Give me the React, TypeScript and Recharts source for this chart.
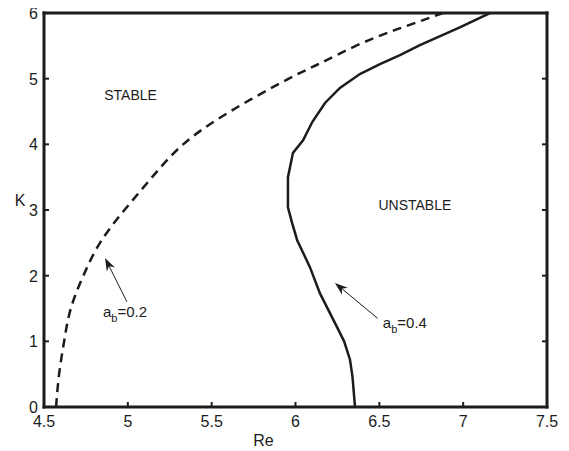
import { LineChart, Line, XAxis, YAxis, ReferenceLine, ReferenceDot } from "recharts";

// a_b = 0.2 boundary (dashed)
const dashedRe = [4.572, 4.59, 4.62, 4.66, 4.735, 4.834, 4.98, 5.145, 5.33, 5.61, 5.96, 6.16, 6.36, 6.55, 6.66, 6.88];
const dashedK = [0, 0.5, 1, 1.5, 2, 2.5, 3, 3.5, 4, 4.5, 5, 5.25, 5.5, 5.7, 5.8, 6];

// a_b = 0.4 boundary (solid)
const solidRe = [6.355, 6.34, 6.325, 6.29, 6.247, 6.146, 6.086, 6.01, 5.98, 5.955, 5.955, 5.985, 6.045, 6.1, 6.176, 6.265, 6.384, 6.504, 6.623, 6.742, 6.98, 7.16];
const solidK = [0, 0.46, 0.72, 1.0, 1.22, 1.73, 2.13, 2.54, 2.8, 3.04, 3.5, 3.87, 4.06, 4.34, 4.63, 4.86, 5.07, 5.22, 5.36, 5.51, 5.78, 6.0];

const reTicks = [4.5, 5, 5.5, 6, 6.5, 7, 7.5];
const kTicks = [0, 1, 2, 3, 4, 5, 6];

const dashed = dashedRe.map((re, i) => ({ Re: re, K: dashedK[i] }));
const solid = solidRe.map((re, i) => ({ Re: re, K: solidK[i] }));

const FONT = "'Liberation Sans', Arial, Helvetica, sans-serif";
const INK = "#1c1c1c";
const TICK_LEN = 5;
const GAP = 8;

function BottomTick({ x, y, payload }: any) {
  const base = y - GAP;
  return (
    <g>
      <line x1={x} x2={x} y1={base} y2={base - TICK_LEN} stroke={INK} strokeWidth={2} />
      <text x={x} y={base + 20} textAnchor="middle" fontSize={16} fill={INK} fontFamily={FONT}>
        {payload.value}
      </text>
    </g>
  );
}

function LeftTick({ x, y, payload }: any) {
  const base = x + GAP;
  return (
    <g>
      <line x1={base} x2={base + TICK_LEN} y1={y} y2={y} stroke={INK} strokeWidth={2} />
      <text x={base - 6} y={y + 6} textAnchor="end" fontSize={16} fill={INK} fontFamily={FONT}>
        {payload.value}
      </text>
    </g>
  );
}

function TopTick({ x, y }: any) {
  return <line x1={x} x2={x} y1={y} y2={y + TICK_LEN} stroke={INK} strokeWidth={2} />;
}

function RightTick({ x, y }: any) {
  return <line x1={x} x2={x - TICK_LEN} y1={y} y2={y} stroke={INK} strokeWidth={2} />;
}

function XTitle({ viewBox }: any) {
  return (
    <text x={viewBox.x + viewBox.width / 2 - 32} y={viewBox.y + 39} textAnchor="middle" fontSize={16} fill={INK} fontFamily={FONT}>
      Re
    </text>
  );
}

function YTitle({ viewBox }: any) {
  return (
    <text x={viewBox.x + 12} y={viewBox.y + viewBox.height / 2 - 4} textAnchor="middle" fontSize={16} fill={INK} fontFamily={FONT}>
      K
    </text>
  );
}

function Arrow(props: any) {
  const { x1, y1, x2, y2 } = props;
  const dx = x2 - x1;
  const dy = y2 - y1;
  const len = Math.hypot(dx, dy) || 1;
  const ux = dx / len;
  const uy = dy / len;
  const px = -uy;
  const py = ux;
  const L = 13;
  const W = 4.5;
  const back = 9;
  const bx = x2 - ux * L;
  const by = y2 - uy * L;
  const nx = x2 - ux * back;
  const ny = y2 - uy * back;
  const pts = [
    [x2, y2],
    [bx + px * W, by + py * W],
    [nx, ny],
    [bx - px * W, by - py * W],
  ]
    .map((p) => p.join(","))
    .join(" ");
  return (
    <g>
      <line x1={x1} y1={y1} x2={nx} y2={ny} stroke={INK} strokeWidth={1} />
      <polygon points={pts} fill={INK} />
    </g>
  );
}

const plainLabel = (text: string) => (p: any) => (
  <text x={p.cx} y={p.cy + 5} textAnchor="middle" fontSize={14} fill={INK} fontFamily={FONT}>
    {text}
  </text>
);

const subLabel = (value: string) => (p: any) => (
  <text x={p.cx} y={p.cy + 5} textAnchor="start" fontSize={15} fill={INK} fontFamily={FONT}>
    a
    <tspan dy={5} fontSize={11}>b</tspan>
    <tspan dy={-5}>={value}</tspan>
  </text>
);

const frame = { stroke: INK, strokeWidth: 3, strokeLinecap: "square" as const };

export default function App() {
  return (
    <LineChart width={561} height={443} margin={{ top: 4, right: 21, bottom: 0, left: 0 }}>
      <XAxis
        dataKey="Re"
        type="number"
        domain={[4.5, 7.5]}
        ticks={reTicks}
        interval={0}
        allowDataOverflow
        height={44}
        tickSize={0}
        tickMargin={GAP}
        tick={<BottomTick />}
        axisLine={frame}
        label={<XTitle />}
      />
      <XAxis
        xAxisId="top"
        orientation="top"
        type="number"
        domain={[4.5, 7.5]}
        ticks={reTicks}
        interval={0}
        allowDataOverflow
        height={1}
        tickSize={0}
        tickMargin={0}
        tick={<TopTick />}
        axisLine={frame}
      />
      <YAxis
        dataKey="K"
        type="number"
        domain={[0, 6]}
        ticks={kTicks}
        interval={0}
        allowDataOverflow
        width={36}
        tickSize={0}
        tickMargin={GAP}
        tick={<LeftTick />}
        axisLine={frame}
        label={<YTitle />}
      />
      <YAxis
        yAxisId="right"
        orientation="right"
        type="number"
        domain={[0, 6]}
        ticks={kTicks}
        interval={0}
        allowDataOverflow
        width={1}
        tickSize={0}
        tickMargin={0}
        tick={<RightTick />}
        axisLine={frame}
      />
      <Line
        data={dashed}
        dataKey="K"
        type="natural"
        stroke={INK}
        strokeWidth={2.5}
        strokeDasharray="9 6"
        dot={false}
        activeDot={false}
        isAnimationActive={false}
      />
      <Line
        data={solid}
        dataKey="K"
        type="linear"
        stroke={INK}
        strokeWidth={2.5}
        dot={false}
        activeDot={false}
        isAnimationActive={false}
      />
      <ReferenceLine segment={[{ x: 4.995, y: 1.6 }, { x: 4.864, y: 2.27 }]} shape={Arrow} />
      <ReferenceLine segment={[{ x: 6.49, y: 1.35 }, { x: 6.235, y: 1.89 }]} shape={Arrow} />
      <ReferenceDot x={5.016} y={4.75} r={0} shape={plainLabel("STABLE")} />
      <ReferenceDot x={6.712} y={3.07} r={0} shape={plainLabel("UNSTABLE")} />
      <ReferenceDot x={4.852} y={1.45} r={0} shape={subLabel("0.2")} />
      <ReferenceDot x={6.521} y={1.28} r={0} shape={subLabel("0.4")} />
    </LineChart>
  );
}
